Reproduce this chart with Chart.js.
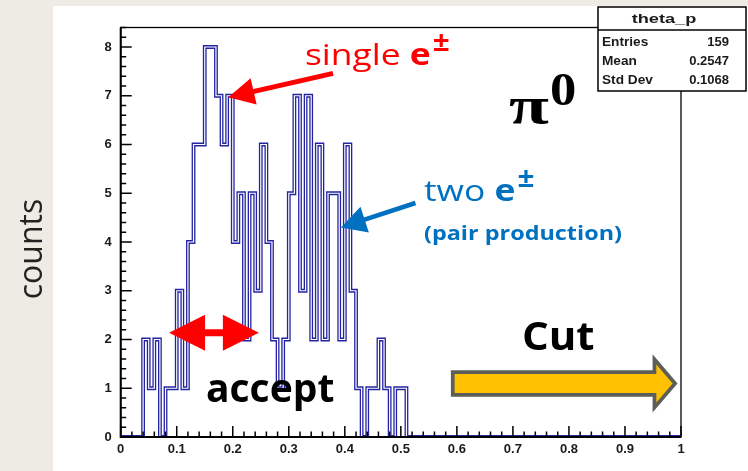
<!DOCTYPE html>
<html>
<head>
<meta charset="utf-8">
<script src="https://cdn.jsdelivr.net/npm/chart.js@4/dist/chart.umd.min.js"></script>
<style>
  body { margin: 0; background: #eeebe4; }
  canvas { display: block; }
</style>
</head>
<body>
<canvas id="c" width="748" height="471"></canvas>
<script>
// theta_p histogram, 100 bins from 0 to 1
const xMin = 0;
const xMax = 1;
const binWidth = 0.01;
const counts = [
  0, 0, 0, 0, 2, 1, 2, 0, 1, 1,   // 0.00 - 0.09
  3, 1, 4, 6, 6, 8, 8, 7, 6, 7,   // 0.10 - 0.19
  4, 5, 2, 5, 3, 6, 4, 2, 1, 2,   // 0.20 - 0.29
  5, 7, 3, 7, 2, 6, 2, 5, 5, 2,   // 0.30 - 0.39
  6, 3, 1, 0, 1, 1, 2, 1, 0, 1,   // 0.40 - 0.49
  1, 0, 0, 0, 0, 0, 0, 0, 0, 0,   // 0.50 - 0.59
  0, 0, 0, 0, 0, 0, 0, 0, 0, 0,
  0, 0, 0, 0, 0, 0, 0, 0, 0, 0,
  0, 0, 0, 0, 0, 0, 0, 0, 0, 0,
  0, 0, 0, 0, 0, 0, 0, 0, 0, 0
];
const yMax = 8.4;
const xTickStep = 0.1;
const yTickStep = 1;

// stats box
const statsTitle = "theta_p";
const statsRows = [["Entries", "159"], ["Mean", "0.2547"], ["Std Dev", "0.1068"]];

// step outline: each point is the low edge of a bin, plus the upper edge of the last one
const points = counts.map((c, i) => ({ x: xMin + i * binWidth, y: c }));
points.push({ x: xMax, y: counts[counts.length - 1] });

const tickFont = { family: "'Liberation Sans', Arial, sans-serif", size: 13, weight: "bold" };

function arrow(ctx, x1, y1, x2, y2, lw, hl, hw, color, both) {
  const a = Math.atan2(y2 - y1, x2 - x1);
  const cx = Math.cos(a), sy = Math.sin(a);
  ctx.save();
  ctx.strokeStyle = color;
  ctx.fillStyle = color;
  ctx.lineWidth = lw;
  ctx.beginPath();
  ctx.moveTo(both ? x1 + cx * hl * 0.8 : x1, both ? y1 + sy * hl * 0.8 : y1);
  ctx.lineTo(x2 - cx * hl * 0.8, y2 - sy * hl * 0.8);
  ctx.stroke();
  const head = (tx, ty, dx, dy) => {
    ctx.beginPath();
    ctx.moveTo(tx, ty);
    ctx.lineTo(tx - dx * hl - dy * hw / 2, ty - dy * hl + dx * hw / 2);
    ctx.lineTo(tx - dx * hl + dy * hw / 2, ty - dy * hl - dx * hw / 2);
    ctx.closePath();
    ctx.fill();
  };
  head(x2, y2, cx, sy);
  if (both) head(x1, y1, -cx, -sy);
  ctx.restore();
}

// text drawn a little wider than the font, as in the slide
function text(ctx, s, x, y, font, color, sx, align) {
  ctx.save();
  ctx.font = font;
  ctx.fillStyle = color;
  ctx.textAlign = align || "left";
  ctx.textBaseline = "alphabetic";
  ctx.translate(x, y);
  ctx.scale(sx, 1);
  ctx.fillText(s, 0, 0);
  const w = ctx.measureText(s).width * sx;
  ctx.restore();
  return w;
}

// text like "single e±": plain word, bold e, raised ±
function labelE(ctx, word, x, y, size, color, sx) {
  x += text(ctx, word + " ", x, y, `${size}px 'Open Sans'`, color, sx);
  x += text(ctx, "e", x, y, `bold ${size}px 'Open Sans'`, color, sx) + 2;
  text(ctx, "±", x, y - size * 0.48, `bold ${Math.round(size * 0.9)}px 'Open Sans'`, color, 1.1);
}

const pagePlugin = {
  id: "page",
  beforeDraw(chart) {
    const ctx = chart.ctx;
    ctx.save();
    ctx.fillStyle = "#eeebe4";
    ctx.fillRect(0, 0, chart.width, chart.height);
    ctx.fillStyle = "#ffffff";
    ctx.fillRect(53, 6, chart.width - 53, chart.height - 6);
    ctx.restore();
  },
  afterDatasetsDraw(chart) {
    const { ctx, chartArea: a, scales } = chart;
    ctx.save();
    ctx.strokeStyle = "#000";
    ctx.lineWidth = 1.3;
    ctx.strokeRect(a.left, a.top, a.right - a.left, a.bottom - a.top);
    ctx.lineWidth = 2;
    ctx.beginPath();
    ctx.moveTo(a.left, a.top);
    ctx.lineTo(a.left, a.bottom);
    ctx.lineTo(a.right, a.bottom);
    ctx.stroke();
    // inward ticks, ROOT style
    ctx.lineWidth = 1.5;
    ctx.beginPath();
    for (let k = 0; k * 0.2 <= yMax + 1e-9; k++) {
      const py = scales.y.getPixelForValue(k * 0.2);
      const len = k % 5 === 0 ? 11 : 5.5;
      ctx.moveTo(a.left, py);
      ctx.lineTo(a.left + len, py);
    }
    for (let k = 0; k <= 50; k++) {
      const px = scales.x.getPixelForValue(k * 0.02);
      const len = k % 5 === 0 ? 11 : 5.5;
      ctx.moveTo(px, a.bottom);
      ctx.lineTo(px, a.bottom - len);
    }
    ctx.stroke();
    ctx.restore();
  },
  afterDraw(chart) {
    const { ctx, scales } = chart;
    const X = v => scales.x.getPixelForValue(v);
    const Y = v => scales.y.getPixelForValue(v);

    // stats box
    ctx.save();
    ctx.fillStyle = "#fff";
    ctx.strokeStyle = "#000";
    ctx.lineWidth = 1.5;
    ctx.fillRect(598, 7, 148, 84);
    ctx.strokeRect(598, 7, 148, 84);
    ctx.beginPath();
    ctx.moveTo(598, 30);
    ctx.lineTo(746, 30);
    ctx.stroke();
    ctx.restore();
    const boxFont = "bold 13px 'Liberation Sans'";
    text(ctx, statsTitle, 664, 23, boxFont, "#1a1a1a", 1.4, "center");
    statsRows.forEach((r, i) => {
      const by = 46 + i * 19;
      text(ctx, r[0], 602, by, boxFont, "#1a1a1a", 1.05);
      text(ctx, r[1], 729, by, boxFont, "#1a1a1a", 1, "right");
    });

    // y axis title
    ctx.save();
    ctx.translate(42, 249);
    ctx.rotate(-Math.PI / 2);
    ctx.fillStyle = "#222";
    ctx.font = "32px 'Open Sans'";
    ctx.textAlign = "center";
    ctx.fillText("counts", 0, 0);
    ctx.restore();

    // single e± and its arrow
    labelE(ctx, "single", 305, 65, 30, "#ff0000", 1.18);
    arrow(ctx, X(0.379), Y(7.46), X(0.192), Y(6.97), 5, 26, 27, "#ff0000", false);

    // two e± (pair production)
    labelE(ctx, "two", 424, 201, 30, "#0070c0", 1.18);
    text(ctx, "(pair production)", 424, 240, "bold 20px 'Open Sans'", "#0070c0", 1.17);
    arrow(ctx, X(0.526), Y(4.8), X(0.393), Y(4.3), 4.5, 25, 27, "#0070c0", false);

    // pi0
    text(ctx, "π", 509, 123, "bold 52px 'Liberation Serif'", "#000", 1.4);
    text(ctx, "0", 550, 105, "bold 47px 'Liberation Serif'", "#000", 1.12);

    // accept window
    arrow(ctx, X(0.0863), Y(2.14), X(0.2466), Y(2.14), 7, 36, 36, "#ff0000", true);
    text(ctx, "accept", 206, 402, "bold 39px 'Open Sans'", "#000", 1);
    text(ctx, "Cut", 522, 350, "bold 40px 'Open Sans'", "#000", 1.05);

    // cut arrow
    const x0 = X(0.596), x1 = X(0.956), xt = X(0.985), yc = Y(1.1);
    ctx.save();
    ctx.beginPath();
    ctx.moveTo(x0, yc - 9.5);
    ctx.lineTo(x1, yc - 9.5);
    ctx.lineTo(x1, yc - 19);
    ctx.lineTo(xt, yc);
    ctx.lineTo(x1, yc + 19);
    ctx.lineTo(x1, yc + 9.5);
    ctx.lineTo(x0, yc + 9.5);
    ctx.closePath();
    ctx.lineJoin = "miter";
    ctx.lineWidth = 7.5;
    ctx.strokeStyle = "#5e5e58";
    ctx.fillStyle = "#ffc000";
    ctx.stroke();
    ctx.fill();
    ctx.restore();
  }
};

new Chart(document.getElementById("c"), {
  type: "line",
  data: {
    datasets: [
      { data: points, stepped: true, borderColor: "#ffffff", borderWidth: 1.2, pointRadius: 0, fill: false, clip: 0 },
      { data: points, stepped: true, borderColor: "#2424a2", borderWidth: 3.8, pointRadius: 0, fill: false, clip: 0 }
    ]
  },
  options: {
    responsive: false,
    animation: false,
    devicePixelRatio: 1,
    layout: { padding: { top: 27.5, right: 67, bottom: 0, left: 0 } },
    plugins: { legend: { display: false }, tooltip: { enabled: false } },
    scales: {
      x: {
        type: "linear",
        min: xMin,
        max: xMax,
        grid: { display: false, drawTicks: false },
        border: { display: false },
        afterFit(s) { s.height = 34; },
        ticks: {
          stepSize: xTickStep,
          padding: 5,
          maxRotation: 0,
          autoSkip: false,
          color: "#1a1a1a",
          font: tickFont,
          callback: v => String(Math.round(v * 10) / 10)
        }
      },
      y: {
        min: 0,
        max: yMax,
        grid: { display: false, drawTicks: false },
        border: { display: false },
        afterFit(s) { s.width = 120.7; },
        afterBuildTicks(s) { s.ticks = s.ticks.filter(t => Number.isInteger(t.value)); },
        ticks: {
          stepSize: yTickStep,
          padding: 9,
          color: "#1a1a1a",
          font: tickFont
        }
      }
    }
  },
  plugins: [pagePlugin]
});
</script>
</body>
</html>
